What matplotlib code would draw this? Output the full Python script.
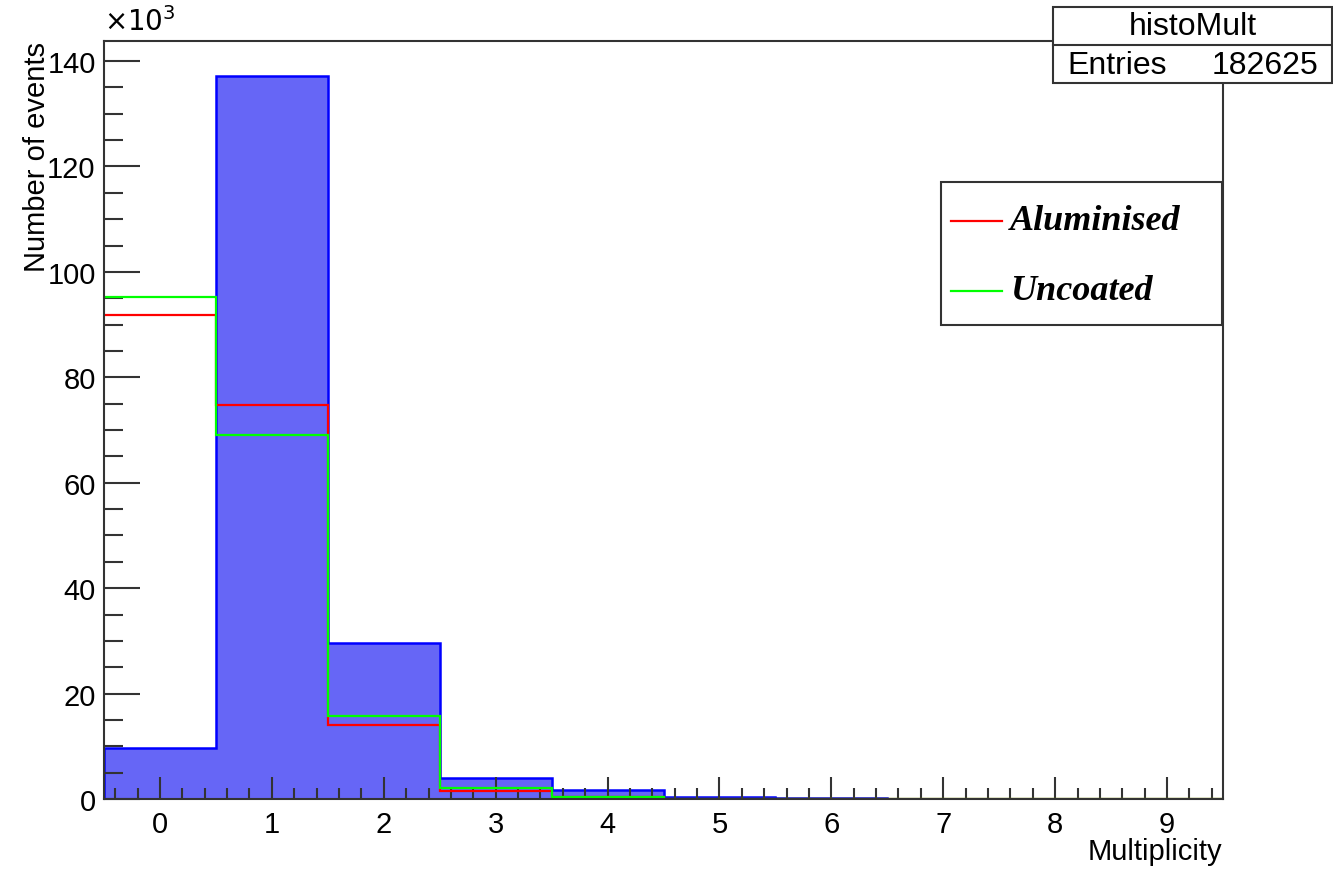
import numpy as np
import matplotlib
matplotlib.use("Agg")
import matplotlib.pyplot as plt
from matplotlib.patches import Rectangle
from matplotlib.lines import Line2D

# multiplicity bins (integer values, unit-wide bins)
multiplicity = np.arange(0, 10)
edges = np.append(multiplicity - 0.5, multiplicity[-1] + 0.5)

# counts per bin
histo_mult = np.array([9600, 137200, 29600, 3900, 1700, 350, 275, 0, 0, 0])
aluminised = np.array([91800, 74700, 14100, 1600, 300, 50, 0, 0, 0, 0])
uncoated = np.array([95200, 69100, 15700, 2000, 400, 0, 0, 0, 0, 0])
entries = 182625

W, H = 1333, 870
fig = plt.figure(figsize=(W / 100, H / 100), dpi=100)
plt.rcParams['font.family'] = ['Liberation Sans', 'DejaVu Sans']


def fx(px):
    return px / W


def fy(py):
    return 1 - py / H


ax = fig.add_axes([fx(104), fy(800), fx(1223) - fx(104), fy(42) - fy(800)])

# blue filled histogram
ax.stairs(histo_mult / 1000, edges, fill=True, facecolor='#6666f6', edgecolor='none', zorder=1)
ax.stairs(histo_mult / 1000, edges, fill=False, color='#0000ff', linewidth=1.8, zorder=1.5)
# overlay histograms
ax.stairs(aluminised / 1000, edges, baseline=None, color='#ff0000', linewidth=1.6, zorder=2)
ax.stairs(uncoated / 1000, edges, baseline=None, color='#00ff00', linewidth=1.6, zorder=2.1)

ax.set_xlim(edges[0], edges[-1])
ax.set_ylim(0, 143.8)

ax.set_xticks(multiplicity)
ax.set_xticks(np.arange(-0.4, 9.5, 0.2), minor=True)
ax.set_yticks(np.arange(0, 141, 20))
ax.set_yticks(np.arange(0, 143, 5), minor=True)

frame_col = '#333333'
for s in ax.spines.values():
    s.set_color(frame_col)
    s.set_linewidth(1.5)
ax.tick_params(axis='both', which='both', direction='in', color=frame_col, width=1.5,
               top=False, right=False, labelsize=21)
ax.tick_params(axis='x', which='major', length=16, pad=8)
ax.tick_params(axis='x', which='minor', length=8)
ax.tick_params(axis='y', which='major', length=26, pad=6)
ax.tick_params(axis='y', which='minor', length=14)

fig.text(fx(1222), fy(852), 'Multiplicity', ha='right', va='center', fontsize=21)
fig.text(fx(37), fy(157), 'Number of events', ha='center', va='center', rotation=90, fontsize=21)
fig.text(fx(104), fy(37), r'$\times10^{3}$', ha='left', va='bottom', fontsize=20)

# stats box
lw_box = 1.5
fig.add_artist(Rectangle((fx(1053), fy(84)), fx(1332) - fx(1053), fy(8) - fy(84),
                         transform=fig.transFigure, facecolor='white', edgecolor=frame_col,
                         linewidth=lw_box, zorder=5))
fig.add_artist(Line2D([fx(1053), fx(1332)], [fy(46), fy(46)], transform=fig.transFigure,
                      color=frame_col, linewidth=lw_box, zorder=6))
fig.text(fx(1193), fy(27), 'histoMult', ha='center', va='center', fontsize=23, zorder=7)
fig.text(fx(1067), fy(66), 'Entries', ha='left', va='center', fontsize=23, zorder=7)
fig.text(fx(1318), fy(66), str(entries), ha='right', va='center', fontsize=23, zorder=7)

# legend box
fig.add_artist(Rectangle((fx(941), fy(326)), fx(1222) - fx(941), fy(183) - fy(326),
                         transform=fig.transFigure, facecolor='white', edgecolor=frame_col,
                         linewidth=lw_box, zorder=5))
legend_items = [('Aluminised', '#ff0000', 222), ('Uncoated', '#00ff00', 292)]
for label, col, py in legend_items:
    fig.add_artist(Line2D([fx(951), fx(1002)], [fy(py), fy(py)], transform=fig.transFigure,
                          color=col, linewidth=1.6, zorder=6))
    fig.text(fx(1010), fy(py), label, ha='left', va='center', fontsize=26,
             family='Liberation Serif', style='italic', weight='bold', zorder=7)

fig.savefig('out.png', dpi=100)
